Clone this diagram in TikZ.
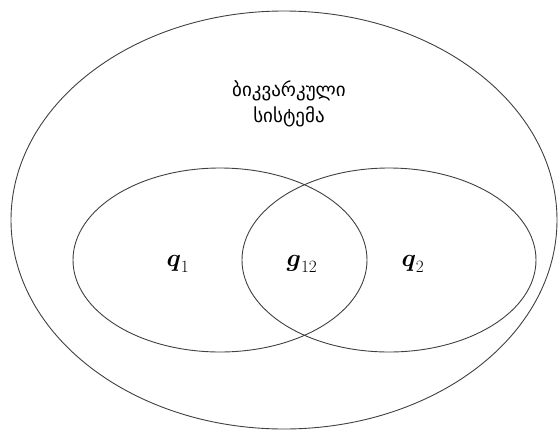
\documentclass[tikz,border=0pt]{standalone}
\usepackage{fontspec}
\usepackage{amsmath}
\newfontfamily\geofont[Script=Georgian]{DejaVu Sans}
\tikzset{
	venn/.style={
			x=1pt, y=-1pt,
			every node/.style={inner sep=1pt, align=center},
			set line/.style={draw=black!75, line width=0.9pt},
			set label/.style={font=\fontsize{25}{30}\selectfont},
			title label/.style={font=\geofont\fontsize{19}{26}\selectfont},
		}
}
\begin{document}
\begin{tikzpicture}[venn]
		\useasboundingbox (0,0) rectangle (560,432);
		% sets
		\draw[set line] (284,220) ellipse [x radius=273, y radius=209];
		\draw[set line] (220,260) ellipse [x radius=147, y radius=92];
		\draw[set line] (389,260) ellipse [x radius=147, y radius=92];
		% labels
		\node[title label] (system) at (289,104) {ბიკვარკული\\სისტემა};
		\node[set label] (qone) at (178,264) {$\boldsymbol{q}_1$};
		\node[set label] (gluon) at (302,264) {$\boldsymbol{g}_{12}$};
		\node[set label] (qtwo) at (413,264) {$\boldsymbol{q}_2$};
	\end{tikzpicture}
\end{document}
